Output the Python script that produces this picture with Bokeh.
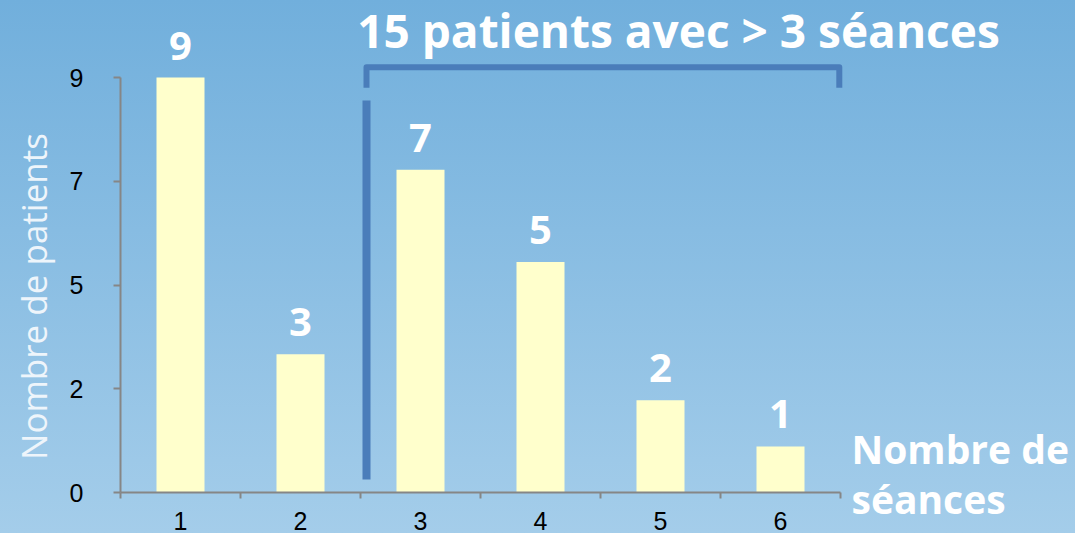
import math
from bokeh.plotting import figure
from bokeh.models import (ColumnDataSource, LinearAxis, FixedTicker,
                          CustomJSTickFormatter, Range1d, Label)
from bokeh.core.properties import value
from bokeh.embed import file_html
from bokeh.resources import INLINE

# Number of sessions per patient (x) and how many patients had that many (y)
sessions = [1, 2, 3, 4, 5, 6]
patients = [9, 3, 7, 5, 2, 1]
y_ticks = [0, 2.25, 4.5, 6.75, 9]
x_boundaries = [0.5, 1.5, 2.5, 3.5, 4.5, 5.5, 6.5]

title_text = "15 patients avec > 3 séances"
y_label = "Nombre de patients"
x_label_lines = ["Nombre de", "séances"]

W, H = 1075, 533
PX_PER_X = 120.0          # pixels per session slot
PX_PER_Y = 415.0 / 9.0    # pixels per patient
X0_PX, Y0_PX = 60.0, 492.0

x_range = Range1d(-X0_PX / PX_PER_X, (W - X0_PX) / PX_PER_X)
y_range = Range1d(-(H - Y0_PX) / PX_PER_Y, Y0_PX / PX_PER_Y)


def px_to_y(py):
    return (Y0_PX - py) / PX_PER_Y


def px_to_x(px):
    return (px - X0_PX) / PX_PER_X


p = figure(width=W, height=H, output_backend="svg", toolbar_location=None,
           x_range=x_range, y_range=y_range,
           x_axis_type=None, y_axis_type=None, min_border=0)
p.min_border_left = p.min_border_right = p.min_border_top = p.min_border_bottom = 0
p.outline_line_color = None
p.background_fill_color = None
p.border_fill_color = None
p.styles = {"background": "linear-gradient(to bottom, #71afdc 0%, #a4cdea 100%)"}

AXIS_GREY = "#868686"
BRACKET = "#4a7dba"

# x axis: labels at session centres, small ticks at the slot boundaries
xaxis = LinearAxis(
    fixed_location=0, bounds=(0.5, 6.5),
    ticker=FixedTicker(ticks=sessions, minor_ticks=x_boundaries),
    axis_line_color=AXIS_GREY, axis_line_width=2,
    major_tick_line_color=None, major_tick_out=0, major_tick_in=0,
    minor_tick_line_color=AXIS_GREY, minor_tick_line_width=2,
    minor_tick_out=6, minor_tick_in=0,
    major_label_standoff=13,
    major_label_text_font="Liberation Sans",
    major_label_text_font_size="25px",
    major_label_text_color="black",
)
p.add_layout(xaxis, "below")

yaxis = LinearAxis(
    fixed_location=0.5, bounds=(0, 9),
    ticker=FixedTicker(ticks=y_ticks, minor_ticks=[]),
    formatter=CustomJSTickFormatter(code="return Math.round(tick).toString()"),
    axis_line_color=AXIS_GREY, axis_line_width=2,
    major_tick_line_color=AXIS_GREY, major_tick_line_width=2,
    major_tick_out=7, major_tick_in=0,
    minor_tick_line_color=None,
    major_label_standoff=30,
    major_label_text_font="Liberation Sans",
    major_label_text_font_size="25px",
    major_label_text_color="black",
)
p.add_layout(yaxis, "left")

# y axis title, rotated, centred a little below the middle of the axis
p.add_layout(Label(x=px_to_x(33), y=px_to_y(296), text=y_label, angle=math.pi / 2,
                   text_align="center", text_baseline="alphabetic",
                   text_font="Open Sans", text_font_style="normal",
                   text_font_size="35px", text_color="#eef5fb"))

src = ColumnDataSource(data=dict(
    x=sessions, top=patients, label=[str(v) for v in patients]))

p.vbar(x="x", top="top", width=0.4, source=src,
       fill_color="#ffffcc", line_color=None)

p.text(x="x", y="top", text="label", source=src,
       text_align="center", text_baseline="alphabetic", y_offset=-32,
       text_font=value("Open Sans"), text_font_style="bold",
       text_font_size="40px", text_color="white")

# bracket over sessions 3-6 and the separator line
p.line(x=[2.55, 2.55, 6.49, 6.49], y=[8.78, 9.22, 9.22, 8.78],
       line_width=6, line_color=BRACKET, line_join="round")
p.segment(x0=[2.55], y0=[0.28], x1=[2.55], y1=[8.50],
          line_width=8, line_color=BRACKET)

p.add_layout(Label(x=px_to_x(678), y=px_to_y(29), text=title_text,
                   text_align="center", text_baseline="middle",
                   text_font="Open Sans", text_font_style="bold",
                   text_font_size="46px", text_color="white"))

for txt, py in zip(x_label_lines, [448, 498]):
    p.add_layout(Label(x=px_to_x(851), y=px_to_y(py), text=txt,
                       text_align="left", text_baseline="alphabetic",
                       text_font="Open Sans", text_font_style="bold",
                       text_font_size="39px", text_color="white"))

open("out.html", "w").write(file_html(p, INLINE))
